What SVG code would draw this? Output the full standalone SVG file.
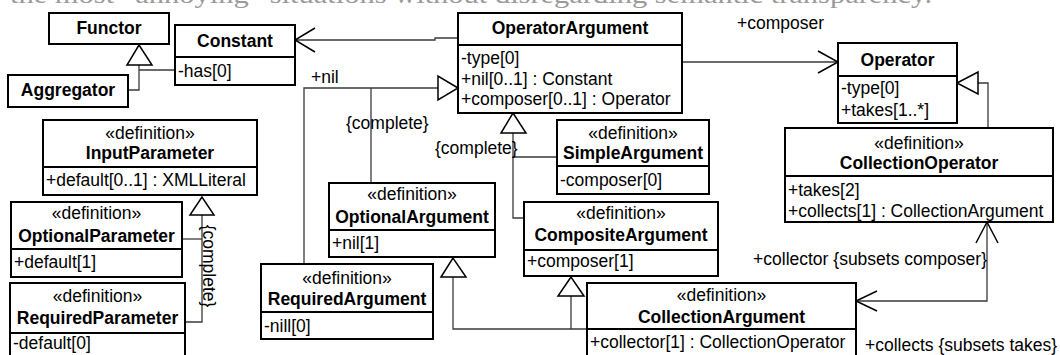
<svg xmlns="http://www.w3.org/2000/svg" width="1060" height="355" viewBox="0 0 1060 355">
  <style>
    .box { fill: #ffffff; stroke: #000000; stroke-width: 2; }
    .div { stroke: #000000; stroke-width: 2; }
    .t { font-family: "Liberation Sans", Arial, sans-serif; font-size: 17.5px; fill: #000000; }
    .b { font-weight: bold; }
    .c { text-anchor: middle; }
    .conn { fill: none; stroke: #3a3a3a; stroke-width: 1.3; }
    .tri { fill: #ffffff; stroke: #000000; stroke-width: 1.5; stroke-linejoin: miter; }
    .open { fill: none; stroke: #000000; stroke-width: 1.5; }
    .page { font-family: "Liberation Serif", "Times New Roman", serif; font-size: 26px; fill: #9a9a9a; }
  </style>

  <rect x="0" y="0" width="1060" height="355" fill="#ffffff"/>

  <!-- running text of the page above the figure, only its lower edge falls inside -->
  <text class="page" x="10" y="3" textLength="922" lengthAdjust="spacingAndGlyphs">the most “annoying” situations without disregarding semantic transparency.</text>

  <!-- connectors -->
  <g id="connectors">
    <!-- OperatorArgument -> Constant -->
    <polyline class="conn" points="458,38 435,38 435,40 295,40"/>
    <polyline class="open" points="315,28 295,40 315,52"/>
    <!-- OperatorArgument -> Operator -->
    <polyline class="conn" points="682,62 838,62"/>
    <polyline class="open" points="818,51 838,62 818,73"/>
    <text class="t" x="737" y="29">+composer</text>

    <!-- Aggregator, Constant -> Functor -->
    <polyline class="conn" points="139,65 139,90 128,90"/>
    <polyline class="conn" points="139,70 175,70"/>
    <polygon class="tri" points="139,45 127,65 152,65"/>

    <!-- OptionalParameter, RequiredParameter -> InputParameter -->
    <polyline class="conn" points="202,215 202,322 185,322"/>
    <polyline class="conn" points="202,239 182,239"/>
    <polygon class="tri" points="202,197 190,215 214,215"/>
    <text class="t" transform="translate(203,266) rotate(90)" text-anchor="middle">{complete}</text>

    <!-- OptionalArgument, RequiredArgument -> OperatorArgument -->
    <polyline class="conn" points="438,88 304,88 304,264"/>
    <polyline class="conn" points="371,88 371,183"/>
    <polygon class="tri" points="458,88 438,76 438,100"/>
    <text class="t" x="311" y="83">+nil</text>
    <text class="t" x="346" y="129">{complete}</text>

    <!-- SimpleArgument, CompositeArgument -> OperatorArgument -->
    <polyline class="conn" points="513,133 513,218 524,218"/>
    <polyline class="conn" points="513,157 557,157"/>
    <polygon class="tri" points="513,113 501,133 526,133"/>
    <text class="t" x="435" y="154">{complete}</text>

    <!-- CollectionArgument -> OptionalArgument, CompositeArgument -->
    <polyline class="conn" points="453,277 453,329 587,329"/>
    <polyline class="conn" points="571,296 571,329"/>
    <polygon class="tri" points="453,258 441,277 466,277"/>
    <polygon class="tri" points="571,277 558,296 584,296"/>

    <!-- CollectionOperator -> Operator -->
    <polyline class="conn" points="978,83 988,83 988,128"/>
    <polygon class="tri" points="957,83 978,72 978,94"/>

    <!-- CollectionArgument <-> CollectionOperator -->
    <polyline class="conn" points="856,301 987,301 987,222"/>
    <polyline class="open" points="877,291 856,301 877,311"/>
    <polyline class="open" points="976,243 987,222 998,243"/>
    <text class="t" x="987" y="265" text-anchor="end">+collector {subsets composer}</text>
    <text class="t" x="865" y="351">+collects {subsets takes}</text>
  </g>

  <!-- classes -->
  <g id="Functor">
    <rect class="box" x="49" y="13" width="120" height="31"/>
    <text class="t b c" x="109" y="34">Functor</text>
  </g>

  <g id="Constant">
    <rect class="box" x="175" y="25" width="120" height="60"/>
    <line class="div" x1="175" y1="57" x2="295" y2="57"/>
    <text class="t b c" x="235" y="47">Constant</text>
    <text class="t" x="178" y="77">-has[0]</text>
  </g>

  <g id="Aggregator">
    <rect class="box" x="8" y="75" width="120" height="32"/>
    <text class="t b c" x="68" y="96">Aggregator</text>
  </g>

  <g id="InputParameter">
    <rect class="box" x="43" y="120" width="214" height="75"/>
    <line class="div" x1="43" y1="167" x2="257" y2="167"/>
    <text class="t c" x="150" y="139">«definition»</text>
    <text class="t b c" x="150" y="159">InputParameter</text>
    <text class="t" x="46" y="186">+default[0..1] : XMLLiteral</text>
  </g>

  <g id="OptionalParameter">
    <rect class="box" x="11" y="202" width="171" height="75"/>
    <line class="div" x1="11" y1="249" x2="182" y2="249"/>
    <text class="t c" x="96.5" y="219">«definition»</text>
    <text class="t b c" x="96.5" y="242">OptionalParameter</text>
    <text class="t" x="14" y="268">+default[1]</text>
  </g>

  <g id="RequiredParameter">
    <rect class="box" x="10" y="283" width="175" height="82"/>
    <line class="div" x1="10" y1="333" x2="185" y2="333"/>
    <text class="t c" x="97.5" y="302">«definition»</text>
    <text class="t b c" x="97.5" y="324">RequiredParameter</text>
    <text class="t" x="13" y="349">-default[0]</text>
  </g>

  <g id="OperatorArgument">
    <rect class="box" x="458" y="13" width="224" height="100"/>
    <line class="div" x1="458" y1="45" x2="682" y2="45"/>
    <text class="t b c" x="570" y="34">OperatorArgument</text>
    <text class="t" x="461" y="64">-type[0]</text>
    <text class="t" x="461" y="85">+nil[0..1] : Constant</text>
    <text class="t" x="461" y="105">+composer[0..1] : Operator</text>
  </g>

  <g id="Operator">
    <rect class="box" x="838" y="43" width="119" height="80"/>
    <line class="div" x1="838" y1="76" x2="957" y2="76"/>
    <text class="t b c" x="897.5" y="66">Operator</text>
    <text class="t" x="841" y="94">-type[0]</text>
    <text class="t" x="841" y="116">+takes[1..*]</text>
  </g>

  <g id="SimpleArgument">
    <rect class="box" x="557" y="120" width="152" height="74"/>
    <line class="div" x1="557" y1="166" x2="709" y2="166"/>
    <text class="t c" x="633" y="139">«definition»</text>
    <text class="t b c" x="633" y="159">SimpleArgument</text>
    <text class="t" x="560" y="186">-composer[0]</text>
  </g>

  <g id="CompositeArgument">
    <rect class="box" x="524" y="202" width="194" height="74"/>
    <line class="div" x1="524" y1="250" x2="718" y2="250"/>
    <text class="t c" x="621" y="219">«definition»</text>
    <text class="t b c" x="621" y="241">CompositeArgument</text>
    <text class="t" x="527" y="267">+composer[1]</text>
  </g>

  <g id="OptionalArgument">
    <rect class="box" x="329" y="183" width="166" height="74"/>
    <line class="div" x1="329" y1="230" x2="495" y2="230"/>
    <text class="t c" x="412" y="200">«definition»</text>
    <text class="t b c" x="412" y="223">OptionalArgument</text>
    <text class="t" x="332" y="249">+nil[1]</text>
  </g>

  <g id="RequiredArgument">
    <rect class="box" x="261" y="264" width="172" height="75"/>
    <line class="div" x1="261" y1="312" x2="433" y2="312"/>
    <text class="t c" x="347" y="284">«definition»</text>
    <text class="t b c" x="347" y="305">RequiredArgument</text>
    <text class="t" x="264" y="332">-nill[0]</text>
  </g>

  <g id="CollectionArgument">
    <rect class="box" x="587" y="283" width="269" height="82"/>
    <line class="div" x1="587" y1="329" x2="856" y2="329"/>
    <text class="t c" x="721.5" y="301">«definition»</text>
    <text class="t b c" x="721.5" y="323">CollectionArgument</text>
    <text class="t" x="590" y="348">+collector[1] : CollectionOperator</text>
  </g>

  <g id="CollectionOperator">
    <rect class="box" x="785" y="128" width="268" height="94"/>
    <line class="div" x1="785" y1="176" x2="1053" y2="176"/>
    <text class="t c" x="919" y="149">«definition»</text>
    <text class="t b c" x="919" y="169">CollectionOperator</text>
    <text class="t" x="788" y="196">+takes[2]</text>
    <text class="t" x="788" y="217">+collects[1] : CollectionArgument</text>
  </g>
</svg>
